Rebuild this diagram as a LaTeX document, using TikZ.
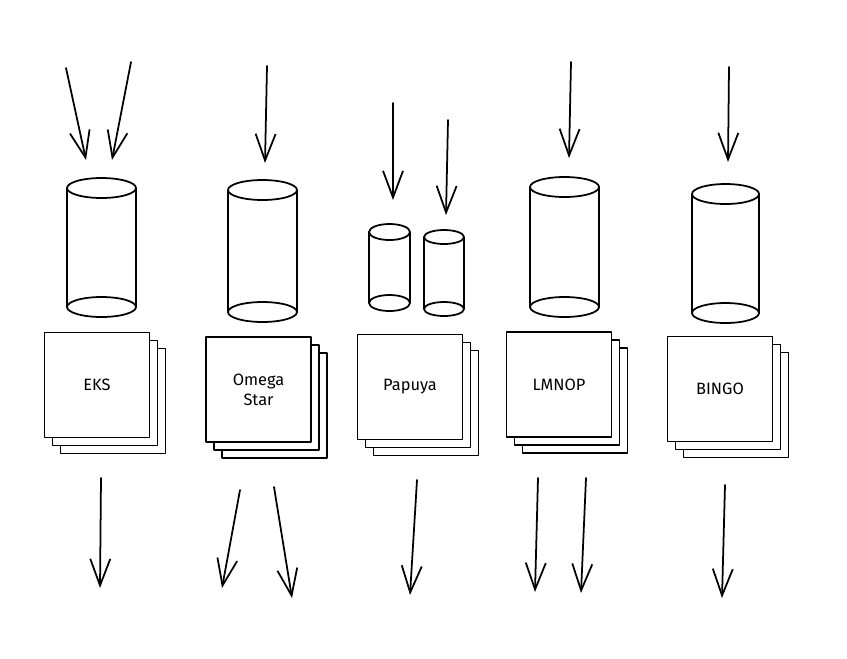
\documentclass[tikz,border=0pt]{standalone}
\usepackage{fontspec}
\setmainfont{Fira Sans}
\usetikzlibrary{arrows.meta,shadows}

\tikzset{
  sketch/.style={line width=1.5pt, black, line cap=round, line join=round},
  flow/.style={sketch, -{Straight Barb[length=8mm,width=6mm,line width=1.5pt]}},
  queue/.style={sketch, draw, fill=white, minimum width=3.15cm, minimum height=3.15cm,
    inner sep=0pt, align=center, font=\fontsize{14}{17}\selectfont,
    copy shadow={sketch, draw=black, fill=white, shadow xshift=0.48cm, shadow yshift=-0.48cm},
    copy shadow={sketch, draw=black, fill=white, shadow xshift=0.24cm, shadow yshift=-0.24cm}},
}

% \cylstore{x}{top y}{bottom y}{x radius}{y radius}
\newcommand{\cylstore}[5]{%
  \draw[sketch] (#1,#2) ellipse [x radius=#4, y radius=#5]
    (#1-#4,#2) -- (#1-#4,#3) (#1+#4,#2) -- (#1+#4,#3)
    (#1,#3) ellipse [x radius=#4, y radius=#5];}

\begin{document}
\begin{tikzpicture}[x=0.03cm, y=-0.03cm]
  \useasboundingbox (0,0) rectangle (847,658);

  % Incoming streams
  \foreach \sx/\sy/\ex/\ey [count=\i] in {66/68/86/160, 131/62/112/160, 267/66/265/163,
      393/103/393/200, 448/120/446/215, 571/62/569/158, 729/67/728/162} {
    \coordinate (src\i) at (\sx,\sy);
    \coordinate (dst\i) at (\ex,\ey);
    \draw[flow] (src\i) -- (dst\i);
  }

  % Storage
  \cylstore{101.5}{188}{307}{34.5}{10}
  \cylstore{262.5}{190}{312}{34.5}{10}
  \cylstore{389.5}{232}{303}{20.5}{8}
  \cylstore{444}{237}{309}{20}{7}
  \cylstore{564.5}{187}{307}{34.5}{10}
  \cylstore{725.5}{194}{313}{33.5}{10}

  % Worker stacks
  \node[queue] (eks) at (97,385) {EKS};
  \node[queue] (omega) at (258.5,389.5) {Omega\\Star};
  \node[queue] (papuya) at (410,387) {Papuya};
  \node[queue] (lmnop) at (559,384.5) {LMNOP};
  \node[queue] (bingo) at (720,389) {BINGO};

  % Outgoing streams
  \foreach \sx/\sy/\ex/\ey [count=\i] in {101/478/100/588, 240/490/222/588, 274/487/292/598,
      417/480/410/595, 538/478/535/592, 586/478/581/593, 725/485/722/598} {
    \coordinate (out\i) at (\sx,\sy);
    \coordinate (sink\i) at (\ex,\ey);
    \draw[flow] (out\i) -- (sink\i);
  }
\end{tikzpicture}
\end{document}
